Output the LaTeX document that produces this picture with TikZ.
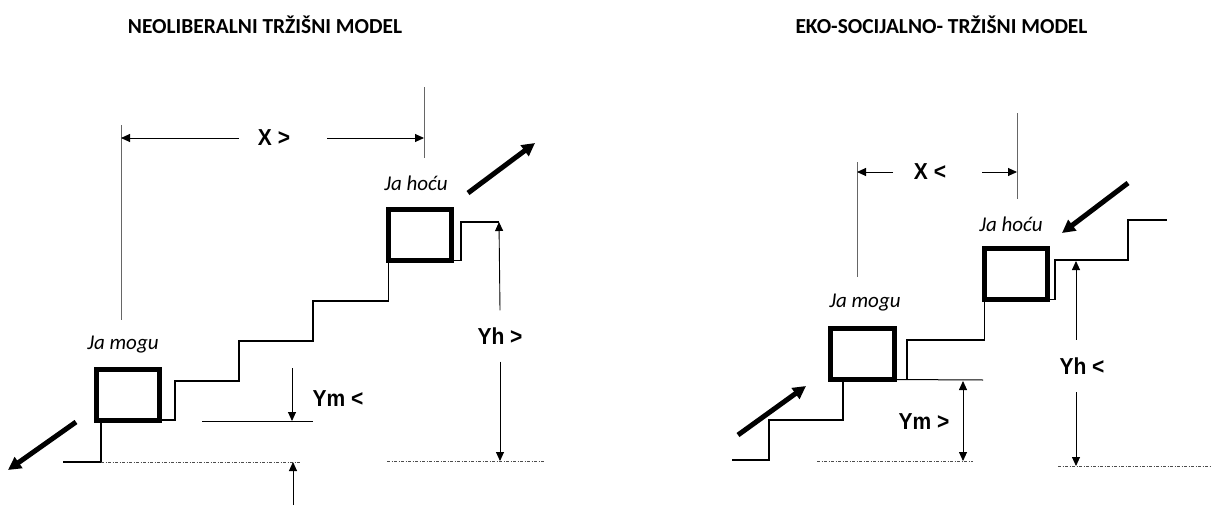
\documentclass[tikz,border=0pt]{standalone}
\usepackage{fontspec}
\usepackage{graphicx}
\setmainfont{Carlito}
\newfontfamily\lblfont{Liberation Sans}
\usetikzlibrary{arrows.meta}
\newcommand{\tallbox}[1]{\scalebox{1}[1.1]{#1}}
\tikzset{
  title/.style={font=\fontsize{21.4}{24}\selectfont\bfseries, inner sep=0pt},
  jalbl/.style={font=\fontsize{21}{24}\selectfont\itshape, inner sep=0pt},
  dimlbl/.style={font=\lblfont\fontsize{21}{24}\selectfont\bfseries, inner sep=0pt},
  stepbox/.style={draw=black, line width=5pt, minimum width=63pt, minimum height=51pt, inner sep=0pt, outer sep=0pt},
  stair/.style={draw=black, line width=1.8pt},
  extline/.style={draw=black!60, line width=1pt},
  dimline/.style={draw=black, line width=0.9pt, -{Triangle[length=9pt,width=8pt]}},
  dimboth/.style={draw=black, line width=0.9pt, {Triangle[length=9pt,width=8pt]}-{Triangle[length=9pt,width=8pt]}},
  refline/.style={draw=black, line width=1pt},
  ground/.style={draw=black!70, line width=0.8pt, dash pattern=on 3pt off 1.5pt on 1pt off 1.5pt},
  bigarrow/.style={draw=black, line width=5pt, -{Triangle[length=13pt,width=13pt]}}
}
\begin{document}
\begin{tikzpicture}[x=1pt,y=-1pt]
\useasboundingbox (0,0) rectangle (1211,506);

% ---------------- titles
\node[title] (t1) at (265,25) {NEOLIBERALNI TRŽIŠNI MODEL};
\node[title] (t2) at (941.5,25) {EKO-SOCIJALNO- TRŽIŠNI MODEL};

% ================= LEFT DIAGRAM
\node[stepbox] (mogL) at (128,394.5) {};
\node[stepbox] (hocL) at (420,235) {};
\node[jalbl] (mogLt) at (123,345) {Ja mogu};
\node[jalbl] (hocLt) at (416,183) {Ja hoću};

% extension lines
\coordinate (eL1a) at (121,125); \coordinate (eL1b) at (121,320);
\coordinate (eL2a) at (424,87);  \coordinate (eL2b) at (424,158);
\draw[extline] (eL1a) -- (eL1b);
\draw[extline] (eL2a) -- (eL2b);
% X >
\node[dimlbl] (xL) at (274,138) {\tallbox{X >}};
\coordinate (xLa) at (239,138); \coordinate (xLb) at (327,138);
\draw[dimline] (xLa) -- (eL1a |- xLa);
\draw[dimline] (xLb) -- (eL2a |- xLb);

% stairs
\coordinate (sL0) at (63,462);
\coordinate (sL1) at (101,462);
\draw[stair] (sL0) -- (sL1) -- (sL1 |- mogL.south);
\draw[stair] (mogL.south east) -| (175,381) -| (239,341) -| (313,301) -| (hocL.south west);
\coordinate (yhTopL) at (499,222);
\draw[stair] (hocL.south east) -| (461,222) -- (yhTopL);

% grounds
\coordinate (gL1b) at (301,462);
\coordinate (gL2a) at (387,461); \coordinate (gL2b) at (545,461);
\draw[ground] (sL1) -- (gL1b);
\draw[ground] (gL2a) -- (gL2b);

% Yh >
\node[dimlbl, minimum height=51pt] (yhL) at (500,336) {\tallbox{Yh >}};
\draw[dimline] (yhL.north) -- (yhTopL);
\draw[dimline] (yhL.south) -- (yhL.south |- gL2a);

% Ym <
\node[dimlbl] (ymL) at (338,399) {\tallbox{Ym <}};
\coordinate (rL1) at (202,421); \coordinate (rL2) at (313,421);
\draw[refline] (rL1) -- (rL2);
\coordinate (ymLtop) at (292,368);
\draw[dimline] (ymLtop) -- (ymLtop |- rL1);
\coordinate (ymLbot) at (293,505);
\draw[dimline] (ymLbot) -- (ymLbot |- sL1);

% thick arrows
\coordinate (baL1) at (76,422); \coordinate (baL2) at (8,470);
\draw[bigarrow] (baL1) -- (baL2);
\coordinate (baL3) at (468,193); \coordinate (baL4) at (535,143);
\draw[bigarrow] (baL3) -- (baL4);

% ================= RIGHT DIAGRAM
\node[stepbox, minimum width=64pt] (mogR) at (862.5,354) {};
\node[stepbox] (hocR) at (1016,274) {};
\node[jalbl] (mogRt) at (865,303) {Ja mogu};
\node[jalbl] (hocRt) at (1011,224) {Ja hoću};

% extension lines
\coordinate (eR1a) at (857,162); \coordinate (eR1b) at (857,277);
\coordinate (eR2a) at (1017,113); \coordinate (eR2b) at (1017,199);
\draw[extline] (eR1a) -- (eR1b);
\draw[extline] (eR2a) -- (eR2b);
% X <
\node[dimlbl] (xR) at (930,172) {\tallbox{X <}};
\coordinate (xRa) at (893,172); \coordinate (xRb) at (982,172);
\draw[dimline] (xRa) -- (eR1a |- xRa);
\draw[dimline] (xRb) -- (eR2a |- xRb);

% stairs
\coordinate (sR0) at (732,460);
\draw[stair] (sR0) -| (769,420) -| (843,380) -- (843,382);
\draw[stair] (mogR.south east) -| (907,340) -| (hocR.south west);
\coordinate (sRtop) at (1167,220);
\draw[stair] (hocR.south east) -| (1055,260) -| (1128,220) -- (sRtop);

% reference line for Ym
\coordinate (rR2) at (983,380);
\draw[refline] (mogR.south east) -- (rR2);

% grounds
\coordinate (gR1a) at (817,461); \coordinate (gR1b) at (973,461);
\coordinate (gR2a) at (1058,466); \coordinate (gR2b) at (1211,466);
\draw[ground] (gR1a) -- (gR1b);
\draw[ground] (gR2a) -- (gR2b);

% Ym >
\node[dimlbl] (ymR) at (924,422) {\tallbox{Ym >}};
\coordinate (ymRa) at (963,381); \coordinate (ymRb) at (963,461);
\draw[dimboth] (ymRa) -- (ymRb);

% Yh <
\node[dimlbl, minimum height=52pt] (yhR) at (1082,366) {\tallbox{Yh <}};
\coordinate (yhRtop) at (1076,261);
\coordinate (yhRbot) at (1076,466);
\draw[dimline] (yhR.north -| yhRtop) -- (yhRtop);
\draw[dimline] (yhR.south -| yhRbot) -- (yhRbot);

% thick arrows
\coordinate (baR1) at (738,435); \coordinate (baR2) at (806,386);
\draw[bigarrow] (baR1) -- (baR2);
\coordinate (baR3) at (1128,183); \coordinate (baR4) at (1062,233);
\draw[bigarrow] (baR3) -- (baR4);
\end{tikzpicture}
\end{document}
